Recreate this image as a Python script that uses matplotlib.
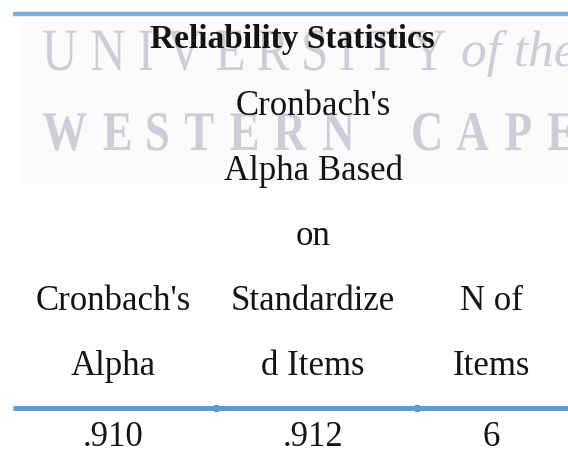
import matplotlib
matplotlib.use("Agg")
import matplotlib.pyplot as plt
from matplotlib.font_manager import FontProperties
from matplotlib.patches import PathPatch, Rectangle
from matplotlib.textpath import TextPath
from matplotlib.transforms import Affine2D

# table content
title = "Reliability Statistics"
header_lines = [
    ["Cronbach's", "Alpha"],
    ["Cronbach's", "Alpha Based", "on", "Standardize", "d Items"],
    ["N of", "Items"],
]
values = [".910", ".912", "6"]

W, H = 568, 472
SERIF = "Liberation Serif"
INK = "#141414"
WM = "#cdcdd8"

fig = plt.figure(figsize=(W / 100, H / 100), dpi=100)
ax = fig.add_axes([0, 0, 1, 1])
ax.set_xlim(0, W)
ax.set_ylim(H, 0)
ax.axis("off")


def tracked(s, x, y, size, gap, word_gap, sx, color, **fontkw):
    """Letter-spaced text drawn as paths (pixel units)."""
    prop = FontProperties(family=SERIF, **fontkw)
    for ch in s:
        if ch == " ":
            x += word_gap
            continue
        path = TextPath((0, 0), ch, size=size, prop=prop)
        ext = path.get_extents()
        tr = Affine2D().translate(-ext.x0, 0).scale(sx, -1).translate(x, y)
        ax.add_patch(PathPatch(tr.transform_path(path), fc=color, lw=0, zorder=1))
        x += ext.width * sx + gap


# watermark
ax.add_patch(Rectangle((20, 22), W - 20, 161, fc="#fbfbfb", lw=0, zorder=0))
tracked("UNIVERSITY", 43, 70, 60, 15, 20, 0.82, WM)
ax.text(461, 66, "of the", fontsize=37, family=SERIF, style="italic",
        color=WM, va="baseline", ha="left", zorder=1)
tracked("WESTERN CAPE", 43, 150, 56, 17, 42, 0.8, WM, weight="bold")

# rules
ax.plot([13, W], [14, 14], color="#7eaedb", lw=3.2, solid_capstyle="butt", zorder=2)
ax.plot([13, W], [407.5, 407.5], color="#5b9bd5", lw=3.6, solid_capstyle="butt", zorder=2)
for xb in [214, 415]:
    ax.add_patch(Rectangle((xb, 405), 5, 6.5, fc="#5b9bd5", lw=0, zorder=2))

# title
ax.text(292, 48, title, fontsize=24, family=SERIF, weight="bold",
        color=INK, ha="center", va="baseline", zorder=3)

# headers (bottom aligned) and values
col_x = [113, 313, 491]
step = 65
last_base = 375
for cx, lines, val in zip(col_x, header_lines, values):
    n = len(lines)
    for i, line in enumerate(lines):
        yb = last_base - (n - 1 - i) * step
        ax.text(cx, yb, line, fontsize=25, family=SERIF, color=INK,
                ha="center", va="baseline", zorder=3)
    ax.text(cx, 446, val, fontsize=25, family=SERIF, color=INK,
            ha="center", va="baseline", zorder=3)

fig.savefig("out.png", dpi=100)
